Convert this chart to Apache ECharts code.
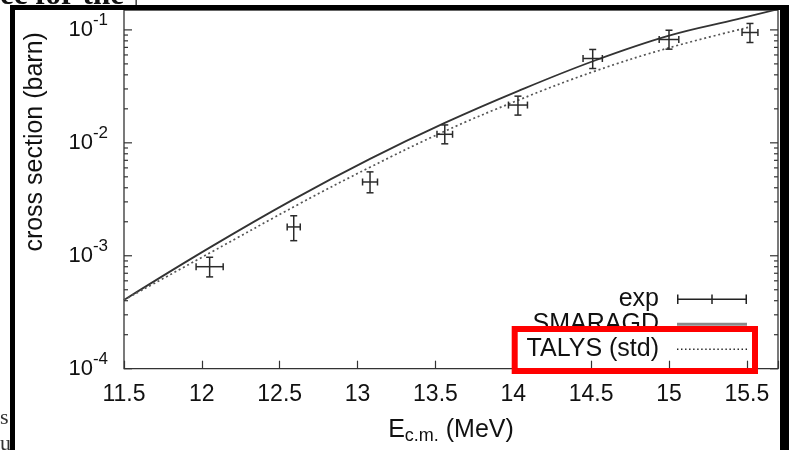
<!DOCTYPE html>
<html><head><meta charset="utf-8">
<script src="https://cdn.jsdelivr.net/npm/echarts@6/dist/echarts.min.js"></script>
<style>html,body{margin:0;padding:0;background:#fff}#c{width:789px;height:450px}</style>
</head><body><div id="c"></div>
<script>
// ---- data ----
const xTicks = [11.5, 12, 12.5, 13, 13.5, 14, 14.5, 15, 15.5];
const xTickLabels = ['11.5', '12', '12.5', '13', '13.5', '14', '14.5', '15', '15.5'];
const yMajorTicks = [1e-4, 1e-3, 1e-2, 1e-1];
const yMajorExp = ['-4', '-3', '-2', '-1'];
const yMinorTicks = [2e-4, 3e-4, 4e-4, 5e-4, 6e-4, 7e-4, 8e-4, 9e-4,
                     2e-3, 3e-3, 4e-3, 5e-3, 6e-3, 7e-3, 8e-3, 9e-3,
                     2e-2, 3e-2, 4e-2, 5e-2, 6e-2, 7e-2, 8e-2, 9e-2];

const expE     = [12.05, 12.59, 13.08, 13.56, 14.03, 14.51, 15.00, 15.52];
const expEerr  = [0.087, 0.042, 0.048, 0.050, 0.061, 0.062, 0.063, 0.051];
const expSigma = [8.0e-4, 1.80e-3, 4.5e-3, 0.0119, 0.0216, 0.0558, 0.0822, 0.0948];
const expLow   = [6.5e-4, 1.36e-3, 3.61e-3, 0.0098, 0.0176, 0.0455, 0.0675, 0.0773];
const expHigh  = [9.7e-4, 2.26e-3, 5.53e-3, 0.0144, 0.0259, 0.0671, 0.0993, 0.114];

const smaragdE     = [11.5, 12.05, 12.58, 13.08, 13.56, 14.03, 14.52, 15.00, 15.44, 15.70];
const smaragdSigma = [4.06e-4, 1.18e-3, 3.11e-3, 7.21e-3, 0.0150, 0.0287, 0.0533, 0.0889, 0.1244, 0.1524];

const talysE     = [11.5, 12.05, 12.63, 13.08, 13.56, 14.03, 14.52, 15.00, 15.52];
const talysSigma = [4.06e-4, 1.057e-3, 2.90e-3, 6.08e-3, 0.01267, 0.0238, 0.0429, 0.0694, 0.1061];

const seriesNames = ['exp', 'SMARAGD', 'TALYS (std)'];
const xName = 'E';
const xNameSub = 'c.m.';
const xNameUnit = ' (MeV)';
const yName = 'cross section (barn)';

// ---- chart ----
const FONT = 'Liberation Sans';
const INK = '#111';
const AX = '#333';
const chart = echarts.init(document.getElementById('c'), null, {renderer: 'canvas'});

const yTickData = yMajorTicks.map(v => [11.5, v, 1]).concat(yMinorTicks.map(v => [11.5, v, 0]));

// dotted legend sample path (small squares)
let dotPath = 'path://';
for (let k = 0; k < 18; k++) { const x0 = k * 4; dotPath += 'M' + x0 + ',0h1.4v1.4h-' + 1.4 + 'z'; }

chart.setOption({
  animation: false,
  backgroundColor: '#fff',
  grid: {left: 124, right: 11, top: 10, bottom: 81.3, show: true, borderColor: AX, borderWidth: 1.3, backgroundColor: 'transparent'},
  xAxis: {
    type: 'value', min: 11.5, max: 15.7, interval: 0.5,
    axisLine: {show: false},
    axisTick: {show: true, inside: true, length: 8, lineStyle: {color: AX, width: 1.2}},
    splitLine: {show: false},
    axisLabel: {
      margin: 14, fontSize: 23, fontFamily: FONT, color: INK,
      formatter: v => { const i = xTicks.findIndex(t => Math.abs(t - v) < 1e-9); return i < 0 ? '' : xTickLabels[i]; }
    },
    name: '{e|' + xName + '}{s|' + xNameSub + '}{e|' + xNameUnit + '}',
    nameLocation: 'middle', nameGap: 46,
    nameTextStyle: {
      rich: {
        e: {fontSize: 25, fontFamily: FONT, color: INK, lineHeight: 30},
        s: {fontSize: 18, fontFamily: FONT, color: INK, lineHeight: 14, verticalAlign: 'bottom'}
      }
    }
  },
  yAxis: {
    type: 'log', logBase: 10, min: 1e-4, max: 0.15,
    axisLine: {show: false},
    axisTick: {show: false},
    minorTick: {show: false},
    splitLine: {show: false},
    axisLabel: {
      margin: 16,
      formatter: v => {
        const i = yMajorTicks.findIndex(t => Math.abs(Math.log10(t) - Math.log10(v)) < 1e-6);
        return i < 0 ? '' : '{b|10}{s|' + yMajorExp[i] + '}';
      },
      rich: {
        b: {fontSize: 22, fontFamily: FONT, color: INK, lineHeight: 36},
        s: {fontSize: 17, fontFamily: FONT, color: INK, lineHeight: 17, verticalAlign: 'top'}
      }
    },
    name: yName, nameLocation: 'middle', nameGap: 76,
    nameTextStyle: {fontSize: 25, fontFamily: FONT, color: INK, padding: [0, 0, 0, 95]}
  },
  legend: {
    orient: 'vertical', right: 42, top: 286.75, align: 'right', padding: 0, itemGap: 0,
    itemWidth: 70, itemHeight: 10, selectedMode: false,
    data: [
      {name: seriesNames[0], icon: 'path://M0,4h70v1.5h-70z M0,0h1.5v9.5h-1.5z M68.5,0h1.5v9.5h-1.5z M34.25,0h1.5v9.5h-1.5z', itemStyle: {color: '#222'}},
      {name: seriesNames[1], icon: 'path://M0,0h70v3h-70z', itemStyle: {color: '#8a8a8a', borderWidth: 0}},
      {name: seriesNames[2], icon: dotPath, itemStyle: {color: '#222', borderWidth: 0}}
    ],
    formatter: n => '{t|' + n + '}',
    textStyle: {rich: {t: {fontSize: 25, fontFamily: FONT, color: INK, width: 140, align: 'right', lineHeight: 24.5, padding: [0, 13, 0, 0]}}}
  },
  series: [
    {
      type: 'custom', name: '', silent: true, data: yTickData, encode: {x: 0, y: 1}, z: 5,
      renderItem: (params, api) => {
        const v = api.value(1);
        const p = api.coord([11.5, v]);
        const cs = params.coordSys;
        const len = api.value(2) ? 8 : 4;
        const st = {stroke: AX, lineWidth: 1.2};
        return {type: 'group', children: [
          {type: 'line', shape: {x1: cs.x, y1: p[1], x2: cs.x + len, y2: p[1]}, style: st},
          {type: 'line', shape: {x1: cs.x + cs.width, y1: p[1], x2: cs.x + cs.width - len, y2: p[1]}, style: st}
        ]};
      }
    },
    {
      type: 'line', name: seriesNames[1], data: smaragdE.map((e, i) => [e, smaragdSigma[i]]),
      showSymbol: false, symbol: 'none', smooth: 0.4,
      lineStyle: {color: '#333', width: 1.8}, itemStyle: {color: '#333'}, z: 3
    },
    {
      type: 'line', name: seriesNames[2], data: talysE.map((e, i) => [e, talysSigma[i]]),
      showSymbol: false, symbol: 'none', smooth: 0.4,
      lineStyle: {color: '#555', width: 1.7, type: [2, 2.8]}, itemStyle: {color: '#555'}, z: 3
    },
    {
      type: 'custom', name: seriesNames[0], z: 4,
      data: expE.map((e, i) => [e, expSigma[i], expEerr[i], expLow[i], expHigh[i]]),
      encode: {x: 0, y: 1},
      itemStyle: {color: '#222'},
      renderItem: (params, api) => {
        const x = api.value(0), y = api.value(1), dx = api.value(2), lo = api.value(3), hi = api.value(4);
        const c = api.coord([x, y]);
        const l = api.coord([x - dx, y]), r = api.coord([x + dx, y]);
        const t = api.coord([x, hi]), b = api.coord([x, lo]);
        const cap = 3.5;
        const st = {stroke: '#2a2a2a', lineWidth: 1.5};
        return {type: 'group', children: [
          {type: 'line', shape: {x1: l[0], y1: c[1], x2: r[0], y2: c[1]}, style: st},
          {type: 'line', shape: {x1: l[0], y1: c[1] - cap, x2: l[0], y2: c[1] + cap}, style: st},
          {type: 'line', shape: {x1: r[0], y1: c[1] - cap, x2: r[0], y2: c[1] + cap}, style: st},
          {type: 'line', shape: {x1: c[0], y1: t[1], x2: c[0], y2: b[1]}, style: st},
          {type: 'line', shape: {x1: c[0] - cap, y1: t[1], x2: c[0] + cap, y2: t[1]}, style: st},
          {type: 'line', shape: {x1: c[0] - cap, y1: b[1], x2: c[0] + cap, y2: b[1]}, style: st}
        ]};
      }
    }
  ],
  graphic: [
    {type: 'text', x: 0, y: 11, z: 90, style: {text: 'ec for the', font: 'bold 31px "Liberation Serif"', fill: '#111', verticalAlign: 'bottom'}},
    {type: 'rect', z: 90, shape: {x: 135.5, y: 0, width: 1.3, height: 6}, style: {fill: '#222'}},
    {type: 'text', x: 0, y: 418, z: 90, style: {text: 's', font: '22px "Liberation Serif"', fill: '#333', verticalAlign: 'middle'}},
    {type: 'text', x: 0, y: 444, z: 90, style: {text: 'u', font: '22px "Liberation Serif"', fill: '#333', verticalAlign: 'middle'}},
    {type: 'rect', z: 100, shape: {x: 10, y: 5, width: 779, height: 5}, style: {fill: '#000'}},
    {type: 'rect', z: 100, shape: {x: 10, y: 5, width: 5, height: 445}, style: {fill: '#000'}},
    {type: 'rect', z: 100, shape: {x: 780, y: 5, width: 9, height: 445}, style: {fill: '#000'}},
    {type: 'rect', z: 100, shape: {x: 514.7, y: 329, width: 240.3, height: 42}, style: {fill: 'none', stroke: '#ff0000', lineWidth: 6}}
  ]
});
</script>
</body></html>
